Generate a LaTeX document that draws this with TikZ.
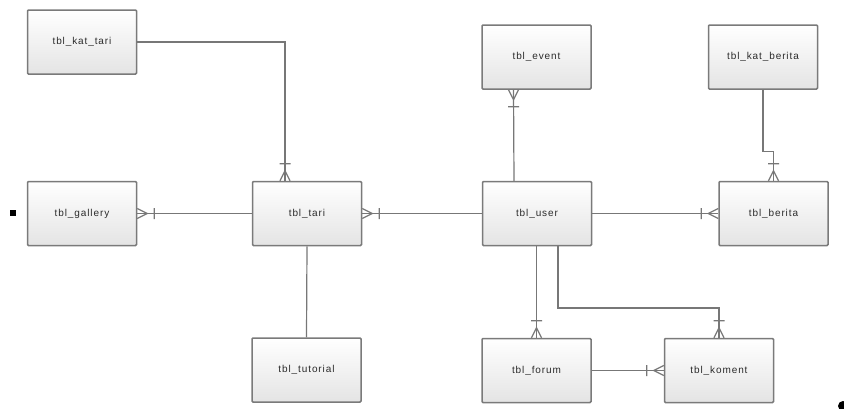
\documentclass[tikz,border=0pt]{standalone}
\usepackage{fontspec}
\setmainfont{Liberation Sans}
\newfontfamily\tblfont[LetterSpace=9]{Liberation Sans}
\usetikzlibrary{arrows.meta}

% one-and-many end: crow's foot at the box, bar a little further out
\pgfdeclarearrow{
	name = Crow,
	parameters = {\the\pgfarrowlength,\the\pgfarrowwidth},
	setup code = {
		\pgfarrowssettipend{0pt}
		\pgfarrowssetlineend{0pt}
		\pgfarrowssetbackend{-1.7\pgfarrowlength}
		\pgfarrowssetvisualbackend{-1.7\pgfarrowlength}
		\pgfarrowshullpoint{0pt}{.55\pgfarrowwidth}
		\pgfarrowshullpoint{0pt}{-.55\pgfarrowwidth}
		\pgfarrowshullpoint{-1.7\pgfarrowlength}{0pt}
		\pgfarrowssavethe\pgfarrowlength
		\pgfarrowssavethe\pgfarrowwidth
	},
	drawing code = {
		\pgfpathmoveto{\pgfqpoint{0pt}{.5\pgfarrowwidth}}
		\pgfpathlineto{\pgfqpoint{-\pgfarrowlength}{0pt}}
		\pgfpathlineto{\pgfqpoint{0pt}{-.5\pgfarrowwidth}}
		\pgfpathmoveto{\pgfqpoint{-1.7\pgfarrowlength}{.55\pgfarrowwidth}}
		\pgfpathlineto{\pgfqpoint{-1.7\pgfarrowlength}{-.55\pgfarrowwidth}}
		\pgfusepathqstroke
	},
	defaults = {length = 10pt, width = 10pt}
}

\definecolor{boxline}{HTML}{7A7A7A}
\definecolor{boxfill}{HTML}{E4E4E4}
\definecolor{relline}{HTML}{777777}
\definecolor{tbltext}{HTML}{2B2B2B}

\begin{document}
\begin{tikzpicture}[x=1pt, y=-1pt,
	tbl/.style={draw=boxline, line width=1.5pt, top color=white, bottom color=boxfill,
		rounded corners=1pt, minimum width=109pt, minimum height=64pt, inner sep=0pt,
		text=tbltext, font=\tblfont\fontsize{10pt}{12pt}\selectfont},
	rel/.style={draw=relline, line width=1.2pt, -{Crow}}]
	    \useasboundingbox (0,0) rectangle (844,408);
	    % tables
	    \node[tbl] (kat_tari) at (82,42) {tbl\_kat\_tari};
	    \node[tbl] (gallery) at (82,213.5) {tbl\_gallery};
	    \node[tbl] (tari) at (307,213.5) {tbl\_tari};
	    \node[tbl] (tutorial) at (306.5,370) {tbl\_tutorial};
	    \node[tbl] (event) at (536.5,57) {tbl\_event};
	    \node[tbl] (user) at (537,213.5) {tbl\_user};
	    \node[tbl] (kat_berita) at (763,57) {tbl\_kat\_berita};
	    \node[tbl] (berita) at (773.5,213.5) {tbl\_berita};
	    \node[tbl] (forum) at (536.5,370.5) {tbl\_forum};
	    \node[tbl] (koment) at (719,370.5) {tbl\_koment};
	    % relations
	    \draw[rel] (kat_tari.east) -| ([xshift=-22pt]tari.north);
	    \draw[rel] (tari.west) -- (gallery.east);
	    \draw[rel] (user.west) -- (tari.east);
	    \draw[draw=relline, line width=1.2pt] (tari.south) -- (tutorial.north);
	    \draw[rel] ([xshift=-23pt]user.north) -- ([xshift=-23pt]event.south);
	    \draw[rel] (kat_berita.south) -- ++(0,62) -| (berita.north);
	    \draw[rel] (user.east) -- (berita.west);
	    \draw[rel] ([xshift=-0.5pt]user.south) -- ([xshift=-0.5pt]user.south |- forum.north);
	    \draw[rel] ([xshift=21pt]user.south) |- (719,308) -- (koment.north);
	    \draw[rel] (forum.east) -- (koment.west);
	    % stray marks
	    \fill (10,210) rectangle (16,216);
	    \fill (843,406) circle (5);
\end{tikzpicture}
\end{document}
